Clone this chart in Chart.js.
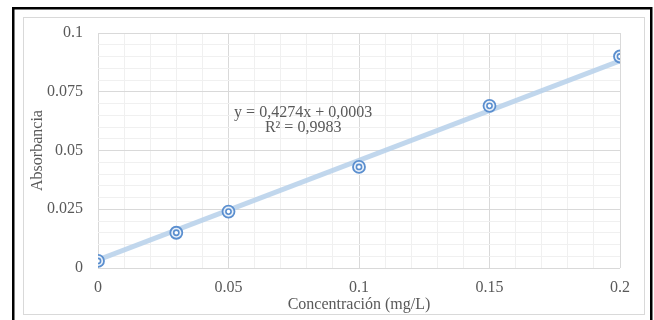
<!DOCTYPE html>
<html>
<head>
<meta charset="utf-8">
<script src="https://cdn.jsdelivr.net/npm/chart.js@4"></script>
<style>
  html, body { margin: 0; padding: 0; background: #ffffff; }
  #wrap { width: 654px; height: 320px; position: relative; }
</style>
</head>
<body>
<div id="wrap"><canvas id="c" width="654" height="320"></canvas></div>
<script>
// ---- data ----
const concentrations = [0, 0.03, 0.05, 0.1, 0.15, 0.2];
const absorbances    = [0.003, 0.015, 0.024, 0.043, 0.069, 0.090];
const trendX = [0, 0.2];
const trendY = [0.0034, 0.0882];
const xTickLabels = ['0', '0.05', '0.1', '0.15', '0.2'];
const yTickLabels = ['0', '0.025', '0.05', '0.075', '0.1'];
const equationLines = ['y = 0,4274x + 0,0003', 'R² = 0,9983'];
const equationAnchorX = 0.0786;
const equationAnchorY = [0.0659, 0.0595];
const xTitle = 'Concentración (mg/L)';
const yTitle = 'Absorbancia';

const points = concentrations.map((x, i) => ({ x: x, y: absorbances[i] }));
const trend = trendX.map((x, i) => ({ x: x, y: trendY[i] }));

const SERIF = "'Liberation Serif', 'Times New Roman', serif";
const TEXT = '#595959';
const MARK = '#5b8fcf';

const framePlugin = {
  id: 'frame',
  beforeDraw(chart) {
    const ctx = chart.ctx;
    ctx.save();
    ctx.fillStyle = '#ffffff';
    ctx.fillRect(0, 0, chart.width, chart.height);
    // inner light border
    ctx.strokeStyle = '#d9d9d9';
    ctx.lineWidth = 1;
    ctx.strokeRect(23.5, 17.5, 621, 297);
    // outer black frame
    ctx.strokeStyle = '#000000';
    ctx.lineWidth = 2.5;
    ctx.beginPath();
    ctx.moveTo(13.25, 330);
    ctx.lineTo(13.25, 8.25);
    ctx.lineTo(651.25, 8.25);
    ctx.lineTo(651.25, 330);
    ctx.stroke();
    ctx.restore();
  },
  afterDatasetsDraw(chart) {
    const ctx = chart.ctx;
    const xs = chart.scales.x, ys = chart.scales.y;
    ctx.save();
    ctx.fillStyle = TEXT;
    ctx.font = '16px ' + SERIF;
    ctx.textAlign = 'center';
    ctx.textBaseline = 'middle';
    equationLines.forEach((t, i) => {
      ctx.fillText(t, xs.getPixelForValue(equationAnchorX), ys.getPixelForValue(equationAnchorY[i]));
    });
    ctx.restore();
  }
};

const gridColor = (ctx) => (ctx.index % 5 === 0 ? '#d9d9d9' : '#f0f0f0');

new Chart(document.getElementById('c'), {
  type: 'scatter',
  data: {
    datasets: [
      {
        label: 'trend',
        data: trend,
        showLine: true,
        borderColor: 'rgba(182, 208, 234, 0.85)',
        borderWidth: 5,
        pointRadius: 0,
        fill: false,
        order: 3
      },
      {
        label: 'outer',
        data: points,
        pointRadius: 6,
        pointBorderWidth: 1.8,
        pointBorderColor: MARK,
        pointBackgroundColor: 'rgba(235,242,250,0.9)',
        showLine: false,
        order: 2
      },
      {
        label: 'inner',
        data: points,
        pointRadius: 2.6,
        pointBorderWidth: 1.6,
        pointBorderColor: MARK,
        pointBackgroundColor: '#ffffff',
        showLine: false,
        order: 1
      }
    ]
  },
  options: {
    responsive: false,
    animation: false,
    devicePixelRatio: 1,
    layout: { padding: { left: 0, top: 33, right: 34, bottom: 0 } },
    plugins: { legend: { display: false }, tooltip: { enabled: false } },
    scales: {
      x: {
        type: 'linear',
        min: 0, max: 0.2,
        border: { display: false },
        grid: { color: gridColor, drawTicks: false, lineWidth: 1 },
        ticks: {
          stepSize: 0.01,
          autoSkip: false,
          maxRotation: 0,
          padding: 10,
          color: TEXT,
          font: { family: SERIF, size: 16 },
          callback: (v, i) => (i % 5 === 0 ? xTickLabels[i / 5] : '')
        },
        title: {
          display: true, text: xTitle, color: TEXT,
          font: { family: SERIF, size: 16 },
          padding: { top: 0, bottom: 5.4 }
        },
        afterFit(s) { s.height = 52; }
      },
      y: {
        type: 'linear',
        min: 0, max: 0.1,
        border: { display: false },
        grid: { color: gridColor, drawTicks: false, lineWidth: 1 },
        ticks: {
          stepSize: 0.005,
          autoSkip: false,
          padding: 15,
          color: TEXT,
          font: { family: SERIF, size: 16 },
          callback: (v, i) => (i % 5 === 0 ? yTickLabels[i / 5] : '')
        },
        title: {
          display: true, text: yTitle, color: TEXT,
          font: { family: SERIF, size: 16 },
          padding: { top: 28.4, bottom: 0 }
        },
        afterFit(s) { s.width = 98; }
      }
    }
  },
  plugins: [framePlugin]
});
</script>
</body>
</html>
